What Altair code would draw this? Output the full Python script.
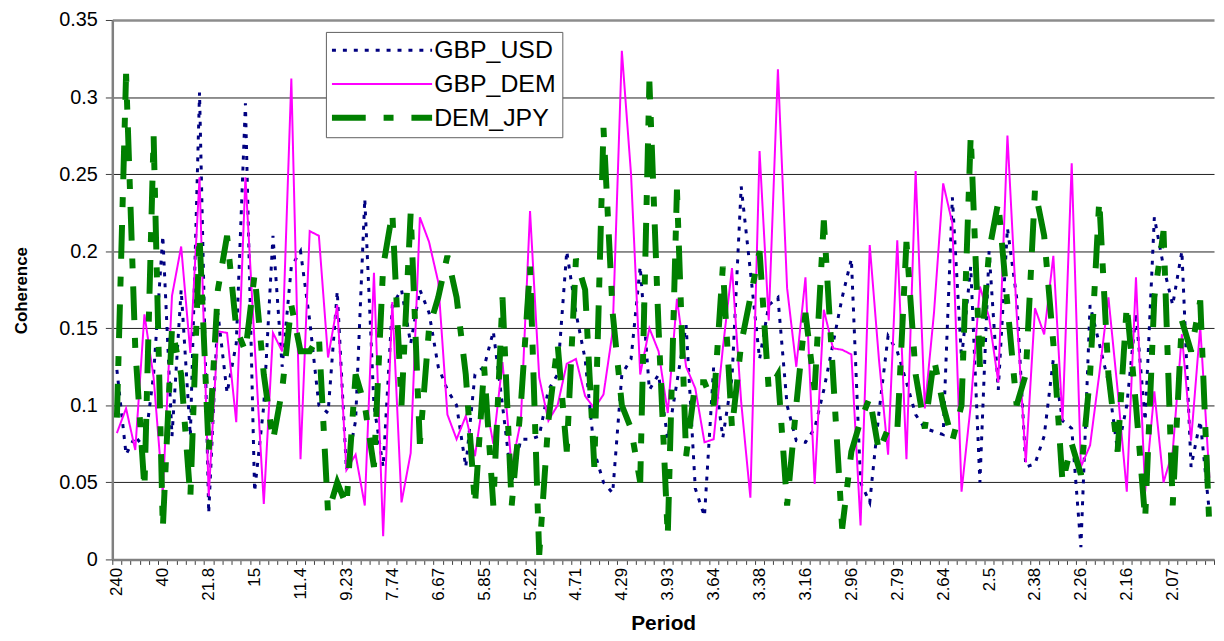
import json
import altair as alt
import pandas as pd

# ---------------- data ----------------
series_names = ["GBP_USD", "GBP_DEM", "DEM_JPY"]
series_colors = ["#000080", "#FF00FF", "#008000"]
series_widths = [3, 2, 6]
series_dashes = [[4, 7], [1, 0], [34, 18, 10, 18]]

# tick labels shown on the category axis (every 5th period, 240/k)
period_labels = ["240", "40", "21.8", "15", "11.4", "9.23", "7.74", "6.67",
                 "5.85", "5.22", "4.71", "4.29", "3.93", "3.64", "3.38", "3.16",
                 "2.96", "2.79", "2.64", "2.5", "2.38", "2.26", "2.16", "2.07"]

y_ticks = [0, 0.05, 0.1, 0.15, 0.2, 0.25, 0.3, 0.35]

usd = [
    0.123, 0.068, 0.080, 0.072, 0.120, 0.210, 0.080, 0.175, 0.080, 0.303,
    0.030, 0.160, 0.108, 0.140, 0.296, 0.044, 0.100, 0.210, 0.125, 0.190,
    0.200, 0.155, 0.100, 0.095, 0.174, 0.058, 0.090, 0.234, 0.100, 0.060,
    0.165, 0.175, 0.140, 0.175, 0.160, 0.125, 0.110, 0.100, 0.060, 0.120,
    0.125, 0.148, 0.100, 0.050, 0.078, 0.078, 0.080, 0.110, 0.120, 0.200,
    0.160, 0.130, 0.070, 0.050, 0.043, 0.120, 0.130, 0.190, 0.110, 0.120,
    0.078, 0.115, 0.152, 0.046, 0.028, 0.125, 0.079, 0.118, 0.242, 0.187,
    0.130, 0.165, 0.170, 0.100, 0.077, 0.076, 0.085, 0.110, 0.140, 0.170,
    0.195, 0.050, 0.037, 0.095, 0.145, 0.135, 0.115, 0.094, 0.085, 0.083,
    0.081, 0.235, 0.130, 0.190, 0.050, 0.200, 0.110, 0.215, 0.170, 0.060,
    0.062, 0.080, 0.130, 0.090, 0.085, 0.008, 0.165, 0.140, 0.115, 0.070,
    0.100, 0.160, 0.090, 0.222, 0.190, 0.165, 0.200, 0.060, 0.090, 0.030,
]

dem = [
    0.082, 0.098, 0.071, 0.159, 0.118, 0.043, 0.171, 0.203, 0.134, 0.248,
    0.041, 0.148, 0.147, 0.089, 0.248, 0.140, 0.036, 0.147, 0.135, 0.312,
    0.065, 0.213, 0.210, 0.131, 0.165, 0.058, 0.068, 0.035, 0.186, 0.015,
    0.167, 0.037, 0.069, 0.222, 0.206, 0.180, 0.094, 0.078, 0.093, 0.067,
    0.108, 0.075, 0.128, 0.060, 0.090, 0.226, 0.118, 0.090, 0.100, 0.127,
    0.130, 0.106, 0.098, 0.107, 0.148, 0.330, 0.250, 0.120, 0.150, 0.135,
    0.095, 0.169, 0.125, 0.111, 0.076, 0.078, 0.137, 0.189, 0.102, 0.040,
    0.265, 0.155, 0.318, 0.176, 0.125, 0.183, 0.049, 0.162, 0.137, 0.136,
    0.133, 0.022, 0.204, 0.130, 0.068, 0.207, 0.065, 0.252, 0.098, 0.160,
    0.244, 0.218, 0.044, 0.100, 0.177, 0.157, 0.115, 0.275, 0.160, 0.063,
    0.163, 0.146, 0.197, 0.090, 0.257, 0.060, 0.074, 0.120, 0.170, 0.110,
    0.044, 0.183, 0.044, 0.109, 0.050, 0.070, 0.146, 0.077, 0.151, 0.053,
]

jpy = [
    0.092, 0.315, 0.137, 0.046, 0.275, 0.020, 0.150, 0.120, 0.040, 0.210,
    0.070, 0.175, 0.210, 0.150, 0.135, 0.185, 0.120, 0.077, 0.110, 0.165,
    0.135, 0.135, 0.145, 0.030, 0.050, 0.035, 0.120, 0.100, 0.060, 0.190,
    0.225, 0.100, 0.225, 0.075, 0.150, 0.170, 0.197, 0.170, 0.120, 0.035,
    0.125, 0.035, 0.170, 0.035, 0.100, 0.190, 0.003, 0.090, 0.140, 0.070,
    0.195, 0.175, 0.060, 0.280, 0.160, 0.100, 0.085, 0.050, 0.310, 0.150,
    0.015, 0.240, 0.067, 0.115, 0.115, 0.100, 0.190, 0.085, 0.140, 0.170,
    0.200, 0.110, 0.120, 0.035, 0.100, 0.160, 0.110, 0.220, 0.120, 0.020,
    0.070, 0.090, 0.105, 0.070, 0.085, 0.083, 0.206, 0.120, 0.085, 0.130,
    0.100, 0.077, 0.100, 0.275, 0.125, 0.200, 0.232, 0.165, 0.100, 0.120,
    0.240, 0.210, 0.140, 0.050, 0.075, 0.055, 0.120, 0.233, 0.120, 0.070,
    0.165, 0.100, 0.026, 0.170, 0.213, 0.035, 0.155, 0.135, 0.168, 0.020,
]

# ---------------- table ----------------
n = len(usd)
category_index = list(range(1, n + 1))
rows = []
for name, vals in zip(series_names, [usd, dem, jpy]):
    for k, v in zip(category_index, vals):
        rows.append({"k": k, "series": name, "value": v})
df = pd.DataFrame(rows)

label_arr = [period_labels[i // 5] if i % 5 == 0 else "" for i in range(n)]
x_label_expr = json.dumps(label_arr) + "[datum.value - 1]"

width_expr = " : ".join(
    f"datum.value == '{s}' ? {w}" for s, w in zip(series_names[:-1], series_widths[:-1])
) + f" : {series_widths[-1]}"

FONT = "Liberation Sans"
PLOT_W, PLOT_H = 1109, 543

x_enc = alt.X(
    "k:O",
    bandPosition=0.5,
    scale=alt.Scale(type="band", paddingInner=0, paddingOuter=0),
    axis=alt.Axis(
        title="Period",
        labelExpr=x_label_expr,
        labelAngle=-90,
        labelFont=FONT,
        labelFontSize=17,
        labelColor="black",
        labelOverlap=False,
        labelBound=False,
        labelPadding=3,
        tickBand="extent",
        tickSize=5,
        tickColor="#404040",
        domainColor="#808080",
        domainWidth=2.5,
        grid=False,
        titleFont=FONT,
        titleFontSize=21,
        titleFontWeight="bold",
        titleColor="black",
        titleX=PLOT_W / 2,
        titleY=71,
        titleAlign="center",
        titleBaseline="alphabetic",
    ),
)

y_enc = alt.Y(
    "value:Q",
    scale=alt.Scale(domain=[0, 0.35], nice=False, zero=True),
    axis=alt.Axis(
        title="Coherence",
        values=y_ticks,
        format="~g",
        labelFont=FONT,
        labelFontSize=20,
        labelColor="black",
        labelPadding=8,
        tickSize=7,
        tickColor="#404040",
        domainColor="#808080",
        domainWidth=2.5,
        grid=True,
        gridColor={"condition": {"test": "datum.value >= 0.349", "value": "#8c8c8c"},
                   "value": "#202020"},
        gridWidth={"condition": {"test": "datum.value >= 0.349", "value": 2.5},
                   "value": 1},
        titleFont=FONT,
        titleFontSize=17,
        titleFontWeight="bold",
        titleColor="black",
        titleAngle=-90,
        titleX=-91,
        titleY=272,
        titleAlign="center",
        titleBaseline="middle",
    ),
)

nbsp_pad = "\u00a0" * 4
legend = alt.Legend(
    title=None,
    orient="none",
    legendX=215,
    legendY=12,
    symbolType="M-3.15,0H3.15",
    symbolSize=1024,
    symbolOffset=38,
    symbolStrokeWidth={"expr": width_expr},
    labelOffset=40,
    labelExpr=f"datum.label + '{nbsp_pad}'",
    labelLimit=400,
    labelFont=FONT,
    labelFontSize=25,
    labelColor="black",
    padding=6,
    rowPadding=8,
    strokeColor="#606060",
    fillColor="white",
)

color_enc = alt.Color("series:N", scale=alt.Scale(domain=series_names, range=series_colors),
                      legend=legend)
dash_enc = alt.StrokeDash("series:N",
                          scale=alt.Scale(domain=series_names, range=series_dashes),
                          legend=legend)

layers = []
for name, w in zip(series_names, series_widths):
    layers.append(
        alt.Chart(df)
        .transform_filter(alt.datum.series == name)
        .mark_line(clip=True, strokeCap="butt", strokeJoin="miter", strokeWidth=w)
        .encode(x=x_enc, y=y_enc, color=color_enc, strokeDash=dash_enc)
    )

chart = (
    alt.layer(*layers)
    .properties(
        width=PLOT_W,
        height=PLOT_H,
        autosize=alt.AutoSizeParams(type="none"),
        padding={"left": 105, "top": 10, "right": 2, "bottom": 72},
        background="white",
    )
    .configure_view(stroke=None)
)

chart.save("out.html", embed_options={"renderer": "svg", "actions": False})
